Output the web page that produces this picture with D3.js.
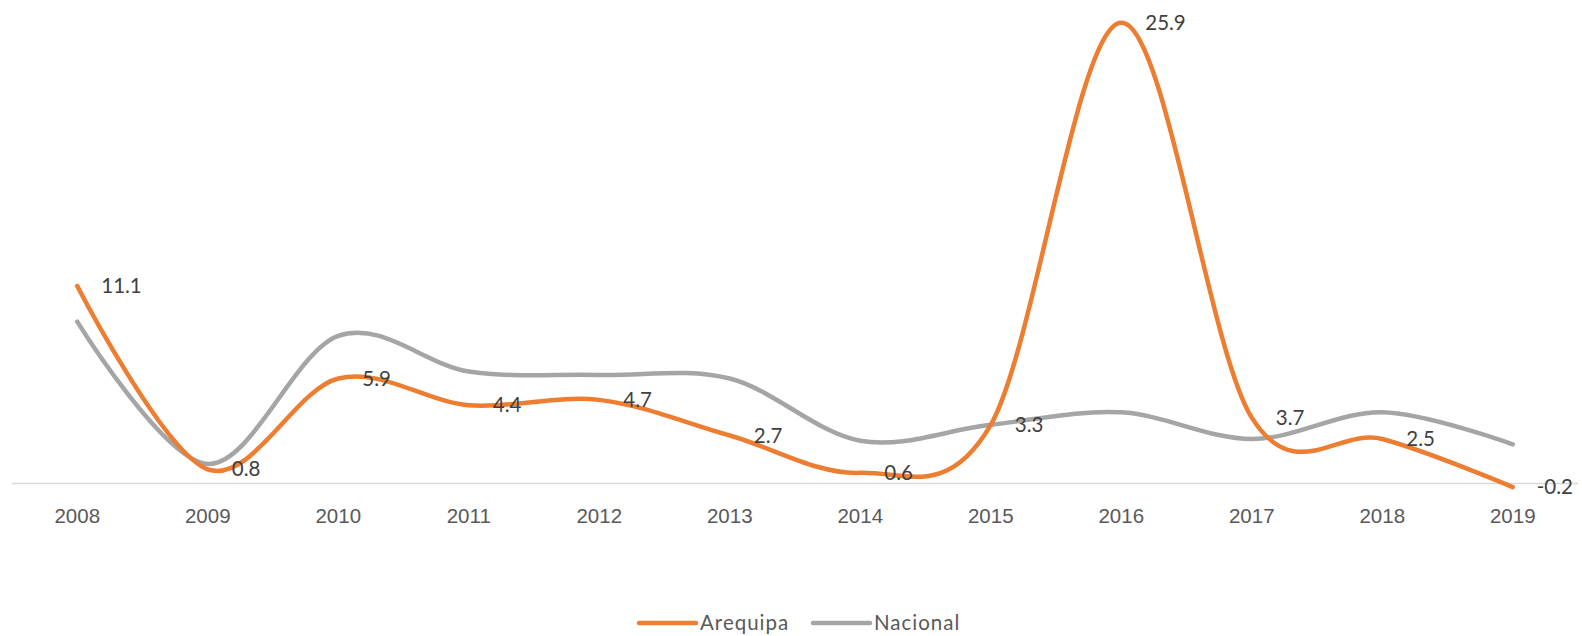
<!DOCTYPE html>
<html>
<head>
<meta charset="utf-8">
<script src="https://cdn.jsdelivr.net/npm/d3@7"></script>
<style>
  body { margin: 0; background: #fff; }
  svg { display: block; font-family: Lato, "Open Sans", sans-serif; }
</style>
</head>
<body>
<svg id="chart"></svg>
<script>
const years = ["2008", "2009", "2010", "2011", "2012", "2013", "2014", "2015", "2016", "2017", "2018", "2019"];
const arequipa = [11.1, 0.8, 5.9, 4.4, 4.7, 2.7, 0.6, 3.3, 25.9, 3.7, 2.5, -0.2];
const nacional = [9.1, 1.1, 8.3, 6.3, 6.1, 5.9, 2.4, 3.3, 4.0, 2.5, 4.0, 2.2];
const seriesNames = ["Arequipa", "Nacional"];
const colors = ["#ED7D31", "#A5A5A5"];

const W = 1582, H = 636;
const svg = d3.select("#chart").attr("width", W).attr("height", H);

const x = d3.scaleBand()
    .domain(years)
    .range([12, 1578]);

const y = d3.scaleLinear()
    .domain([0, 25.9])
    .range([483.5, 22.7]);

const cx = d => x(d) + x.bandwidth() / 2;

// horizontal axis
svg.append("line")
    .attr("x1", x.range()[0]).attr("x2", x.range()[1])
    .attr("y1", y(0)).attr("y2", y(0))
    .attr("stroke", "#D9D9D9")
    .attr("stroke-width", 1.5);

const xAxis = svg.append("g")
    .attr("transform", `translate(0,${y(0)})`)
    .call(d3.axisBottom(x).tickSize(0).tickPadding(25));
xAxis.select(".domain").remove();
xAxis.selectAll("text")
    .attr("fill", "#595959")
    .style("font-size", "20.5px");

const line = d3.line()
    .x((d, i) => cx(years[i]))
    .y(d => y(d))
    .curve(d3.curveCardinal.tension(0));

// gray first so orange draws on top
[nacional, arequipa].forEach((vals, k) => {
  svg.append("path")
      .datum(vals)
      .attr("d", line)
      .attr("fill", "none")
      .attr("stroke", k === 0 ? colors[1] : colors[0])
      .attr("stroke-width", 4.5)
      .attr("stroke-linecap", "round");
});

// data labels for Arequipa
svg.selectAll(".lbl")
    .data(arequipa)
    .join("text")
    .attr("class", "lbl")
    .attr("x", (d, i) => cx(years[i]) + 24)
    .attr("y", d => y(d))
    .attr("dy", "0.35em")
    .attr("fill", "#404040")
    .style("font-size", "20.5px")
    .text(d => d.toFixed(1));

// legend
const legend = svg.append("g");
const legendX = [639, 813];
seriesNames.forEach((name, i) => {
  legend.append("line")
      .attr("x1", legendX[i]).attr("x2", legendX[i] + 57)
      .attr("y1", 623).attr("y2", 623)
      .attr("stroke", colors[i])
      .attr("stroke-width", 4.5)
      .attr("stroke-linecap", "round");
  legend.append("text")
      .attr("x", legendX[i] + 61)
      .attr("y", 623)
      .attr("dy", "0.35em")
      .attr("fill", "#595959")
      .style("font-size", "20.5px")
      .style("letter-spacing", "1px")
      .text(name);
});
</script>
</body>
</html>
